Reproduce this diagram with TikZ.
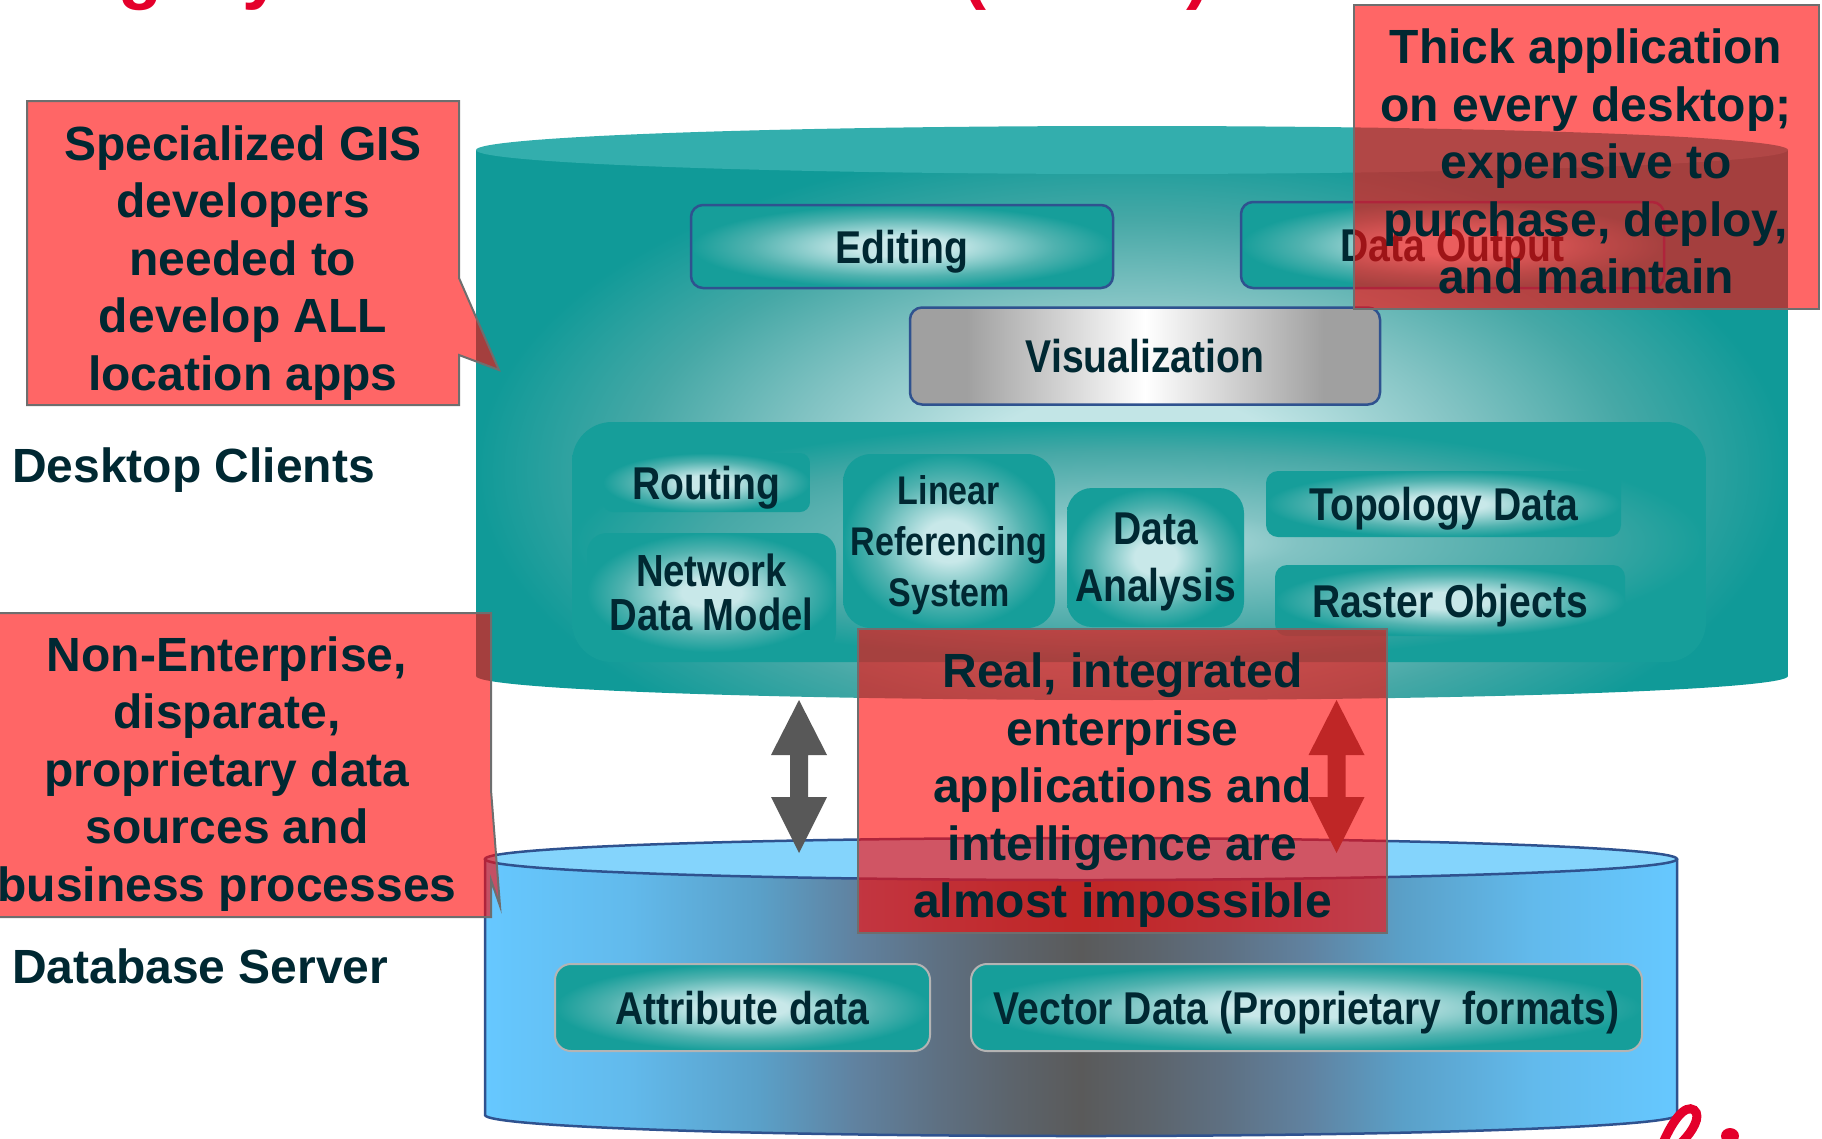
\documentclass[tikz,border=0pt]{standalone}
\usepackage{fontspec}
\setmainfont{Liberation Sans}
\newfontfamily\narrowsans[FakeStretch=0.85]{Liberation Sans}
\usetikzlibrary{calc}

% palette
\definecolor{inkblue}{RGB}{0,40,50}
\definecolor{tealdeep}{RGB}{16,154,152}
\definecolor{tealmid}{RGB}{70,168,166}
\definecolor{tealsoft}{RGB}{130,195,195}
\definecolor{tealpale}{RGB}{194,229,230}
\definecolor{tealface}{RGB}{51,174,173}
\definecolor{boxteal}{RGB}{22,158,154}
\definecolor{boxmid}{RGB}{80,178,175}
\definecolor{boxpale}{RGB}{200,232,233}
\definecolor{frameblue}{RGB}{47,82,143}
\definecolor{silvergrey}{RGB}{160,160,160}
\definecolor{skytop}{RGB}{132,212,252}
\definecolor{skyside}{RGB}{102,200,255}
\definecolor{skyedge}{RGB}{98,186,236}
\definecolor{skymid}{RGB}{90,160,200}
\definecolor{slate}{RGB}{96,130,160}
\definecolor{slatedark}{RGB}{94,112,130}
\definecolor{greyblue}{RGB}{92,100,108}
\definecolor{darkgrey}{RGB}{90,90,90}
\definecolor{arrowgrey}{RGB}{88,88,88}
\definecolor{alertred}{RGB}{255,8,8}
\definecolor{alertedge}{RGB}{110,110,110}
\definecolor{titlered}{RGB}{228,0,43}
\definecolor{softgrey}{RGB}{180,180,180}

% shadings
\pgfdeclareradialshading{cylglow}{\pgfpoint{0bp}{0bp}}{color(0bp)=(tealpale); color(6bp)=(tealpale); color(13bp)=(tealsoft); color(19bp)=(tealmid); color(25bp)=(tealdeep); color(50bp)=(tealdeep)}
\pgfdeclareradialshading{groupglow}{\pgfpoint{0bp}{0bp}}{color(0bp)=(tealpale); color(7bp)=(tealsoft); color(19bp)=(tealmid); color(25bp)=(boxteal); color(50bp)=(boxteal)}
\pgfdeclareradialshading{boxglow}{\pgfpoint{0bp}{0bp}}{color(0bp)=(boxpale); color(6bp)=(boxpale); color(18bp)=(boxmid); color(25bp)=(boxteal); color(50bp)=(boxteal)}
\pgfdeclarehorizontalshading{silver}{100bp}{color(0bp)=(silvergrey); color(31bp)=(silvergrey); color(50bp)=(white); color(69bp)=(silvergrey); color(100bp)=(silvergrey)}
\pgfdeclarehorizontalshading{skyshade}{100bp}{color(0bp)=(skyside); color(25bp)=(skyside); color(31bp)=(skyedge); color(36.5bp)=(skymid); color(40.5bp)=(slate); color(44bp)=(slatedark); color(47bp)=(greyblue); color(50bp)=(darkgrey); color(53bp)=(greyblue); color(56bp)=(slatedark); color(59.5bp)=(slate); color(63.5bp)=(skymid); color(69bp)=(skyedge); color(75bp)=(skyside); color(100bp)=(skyside)}

\begin{document}
\begin{tikzpicture}[x=1pt,y=-1pt,
  every node/.style={text=inkblue, inner sep=0pt},
  dims/.style 2 args={minimum width=#1pt, minimum height=#2pt},
  modfont/.style 2 args={font=\narrowsans\bfseries\fontsize{#1}{#2}\selectfont},
  modbox/.style={shade, shading=boxglow, align=center, text depth=0pt, modfont={46}{54}},
  topmodule/.style={modbox, draw=frameblue, line width=2.5pt, rounded corners=12pt},
  innermodule/.style={modbox, rounded corners=#1},
  datamodule/.style={modbox, draw=softgrey, line width=2pt, rounded corners=16pt},
  groupbox/.style={shade, shading=groupglow, rounded corners=40pt},
  alertbox/.style={fill=alertred, fill opacity=0.62, draw=alertedge, line width=2pt},
  note/.style={align=center, text depth=0pt, font=\bfseries\fontsize{48}{57.5}\selectfont},
  tag/.style={anchor=base west, font=\bfseries\fontsize{48}{57.5}\selectfont},
  headline/.style={anchor=base west, text=titlered, font=\bfseries\fontsize{72}{80}\selectfont},
  blockarrow/.style={fill=arrowgrey}]

\useasboundingbox (0,0) rectangle (1822,1138);
\clip (0,0) rectangle (1822,1138);

% heading running off the top edge
\node[headline] (title) at (34,-5) {Legacy GIS Architecture};
\node[headline] (titleera) at (962,-5) {(1990s)};

% desktop client cylinder
\begin{scope}
  \clip (476,150) -- (476,676) arc[start angle=180, end angle=0, x radius=656, y radius=24] -- (1788,150) -- cycle;
  \shade[shading=cylglow] (476,140) rectangle (1788,800);
\end{scope}
\fill[tealface] (1132,150) ellipse[x radius=656, y radius=24];

% application modules
\node[topmodule, dims={422}{83}] (editing) at (902,246.5) {Editing};
\node[topmodule, dims={423}{86}] (output) at (1452.5,245) {Data Output};
\node[topmodule, shading=silver, dims={470}{97}] (visual) at (1145,356) {Visualization};

\node[groupbox, dims={1134}{240}] (analysis) at (1139,542) {};
\node[innermodule=10pt, dims={207}{59}] (routing) at (706.5,482.5) {Routing};
\node[innermodule=20pt, dims={249}{119}, modfont={45}{44}] (network) at (711.5,592.5) {Network\\Data Model};
\node[innermodule=28pt, dims={212}{174}, modfont={40}{51}] (lrs) at (949,541) {Linear\\Referencing\\System};
\node[innermodule=25pt, dims={177}{139}, modfont={46}{57}] (dataanalysis) at (1155.5,557.5) {Data\\Analysis};
\node[innermodule=12pt, dims={355}{66}] (topology) at (1443.5,504) {Topology Data};
\node[innermodule=12pt, dims={350}{71}] (raster) at (1450,600.5) {Raster Objects};

% database server cylinder
\begin{scope}
  \clip (485,859) -- (485,1115) arc[start angle=180, end angle=0, x radius=596, y radius=21] -- (1677,859) -- cycle;
  \shade[shading=skyshade] (485,850) rectangle (1677,1140);
\end{scope}
\draw[frameblue, line width=2.5pt] (485,859) -- (485,1115) arc[start angle=180, end angle=0, x radius=596, y radius=21] -- (1677,859);
\filldraw[fill=skytop, draw=frameblue, line width=2.5pt] (1081,859) ellipse[x radius=596, y radius=21];

\node[datamodule, dims={375}{87}] (attribute) at (742.5,1007.5) {Attribute data};
\node[datamodule, dims={671}{87}] (vector) at (1306.5,1007.5) {Vector Data (Proprietary~ formats)};

% two-way links between the tiers
\coordinate (deskleft) at (799,700);
\coordinate (dbleft) at (799,853);
\coordinate (deskright) at (1336.5,700);
\coordinate (dbright) at (1336.5,853);
\fill[blockarrow] (deskleft) -- ++(28,55) -- ++(-19,0) -- ($(dbleft)+(9,-56)$) -- ++(19,0) -- (dbleft)
  -- ++(-28,-56) -- ++(19,0) -- ($(deskleft)+(-9,55)$) -- ++(-19,0) -- cycle;
\fill[blockarrow] (deskright) -- ++(28,55) -- ++(-19,0) -- ($(dbright)+(9,-56)$) -- ++(19,0) -- (dbright)
  -- ++(-28,-56) -- ++(19,0) -- ($(deskright)+(-9,55)$) -- ++(-19,0) -- cycle;

% tier labels
\node[tag] (desktop) at (12,482) {Desktop Clients};
\node[tag] (dbserver) at (12,983) {Database Server};

% translucent remarks
\draw[alertbox] (27,101) -- (459,101) -- (459,278) -- (499,370) -- (459,355) -- (459,405) -- (27,405) -- cycle;
\draw[alertbox] (1354,5) rectangle (1819,309);
\draw[alertbox] (-40,613) -- (491,613) -- (491,790) -- (500,906) -- (491,880) -- (491,917) -- (-40,917) -- cycle;
\draw[alertbox] (858,629) rectangle (1387,933);

\node[note] (gisdevs) at (243,258) {Specialized GIS\\developers\\needed to\\develop ALL\\location apps};
\node[note] (thickapp) at (1586,161.5) {Thick application\\on every desktop;\\expensive to\\purchase, deploy,\\and maintain};
\node[note] (disparate) at (227,769) {Non-Enterprise,\\disparate,\\proprietary data\\sources and\\business processes};
\node[note] (integration) at (1122.5,785.5) {Real, integrated\\enterprise\\applications and\\intelligence are\\almost impossible};

% red flourish at the lower edge
\draw[titlered, line width=9pt, line cap=round] (1660,1150) .. controls (1672,1120) and (1685,1104) .. (1694,1110) .. controls (1702,1116) and (1692,1132) .. (1682,1142);
\fill[titlered] (1730,1136) ellipse[x radius=9, y radius=8];

\end{tikzpicture}
\end{document}
